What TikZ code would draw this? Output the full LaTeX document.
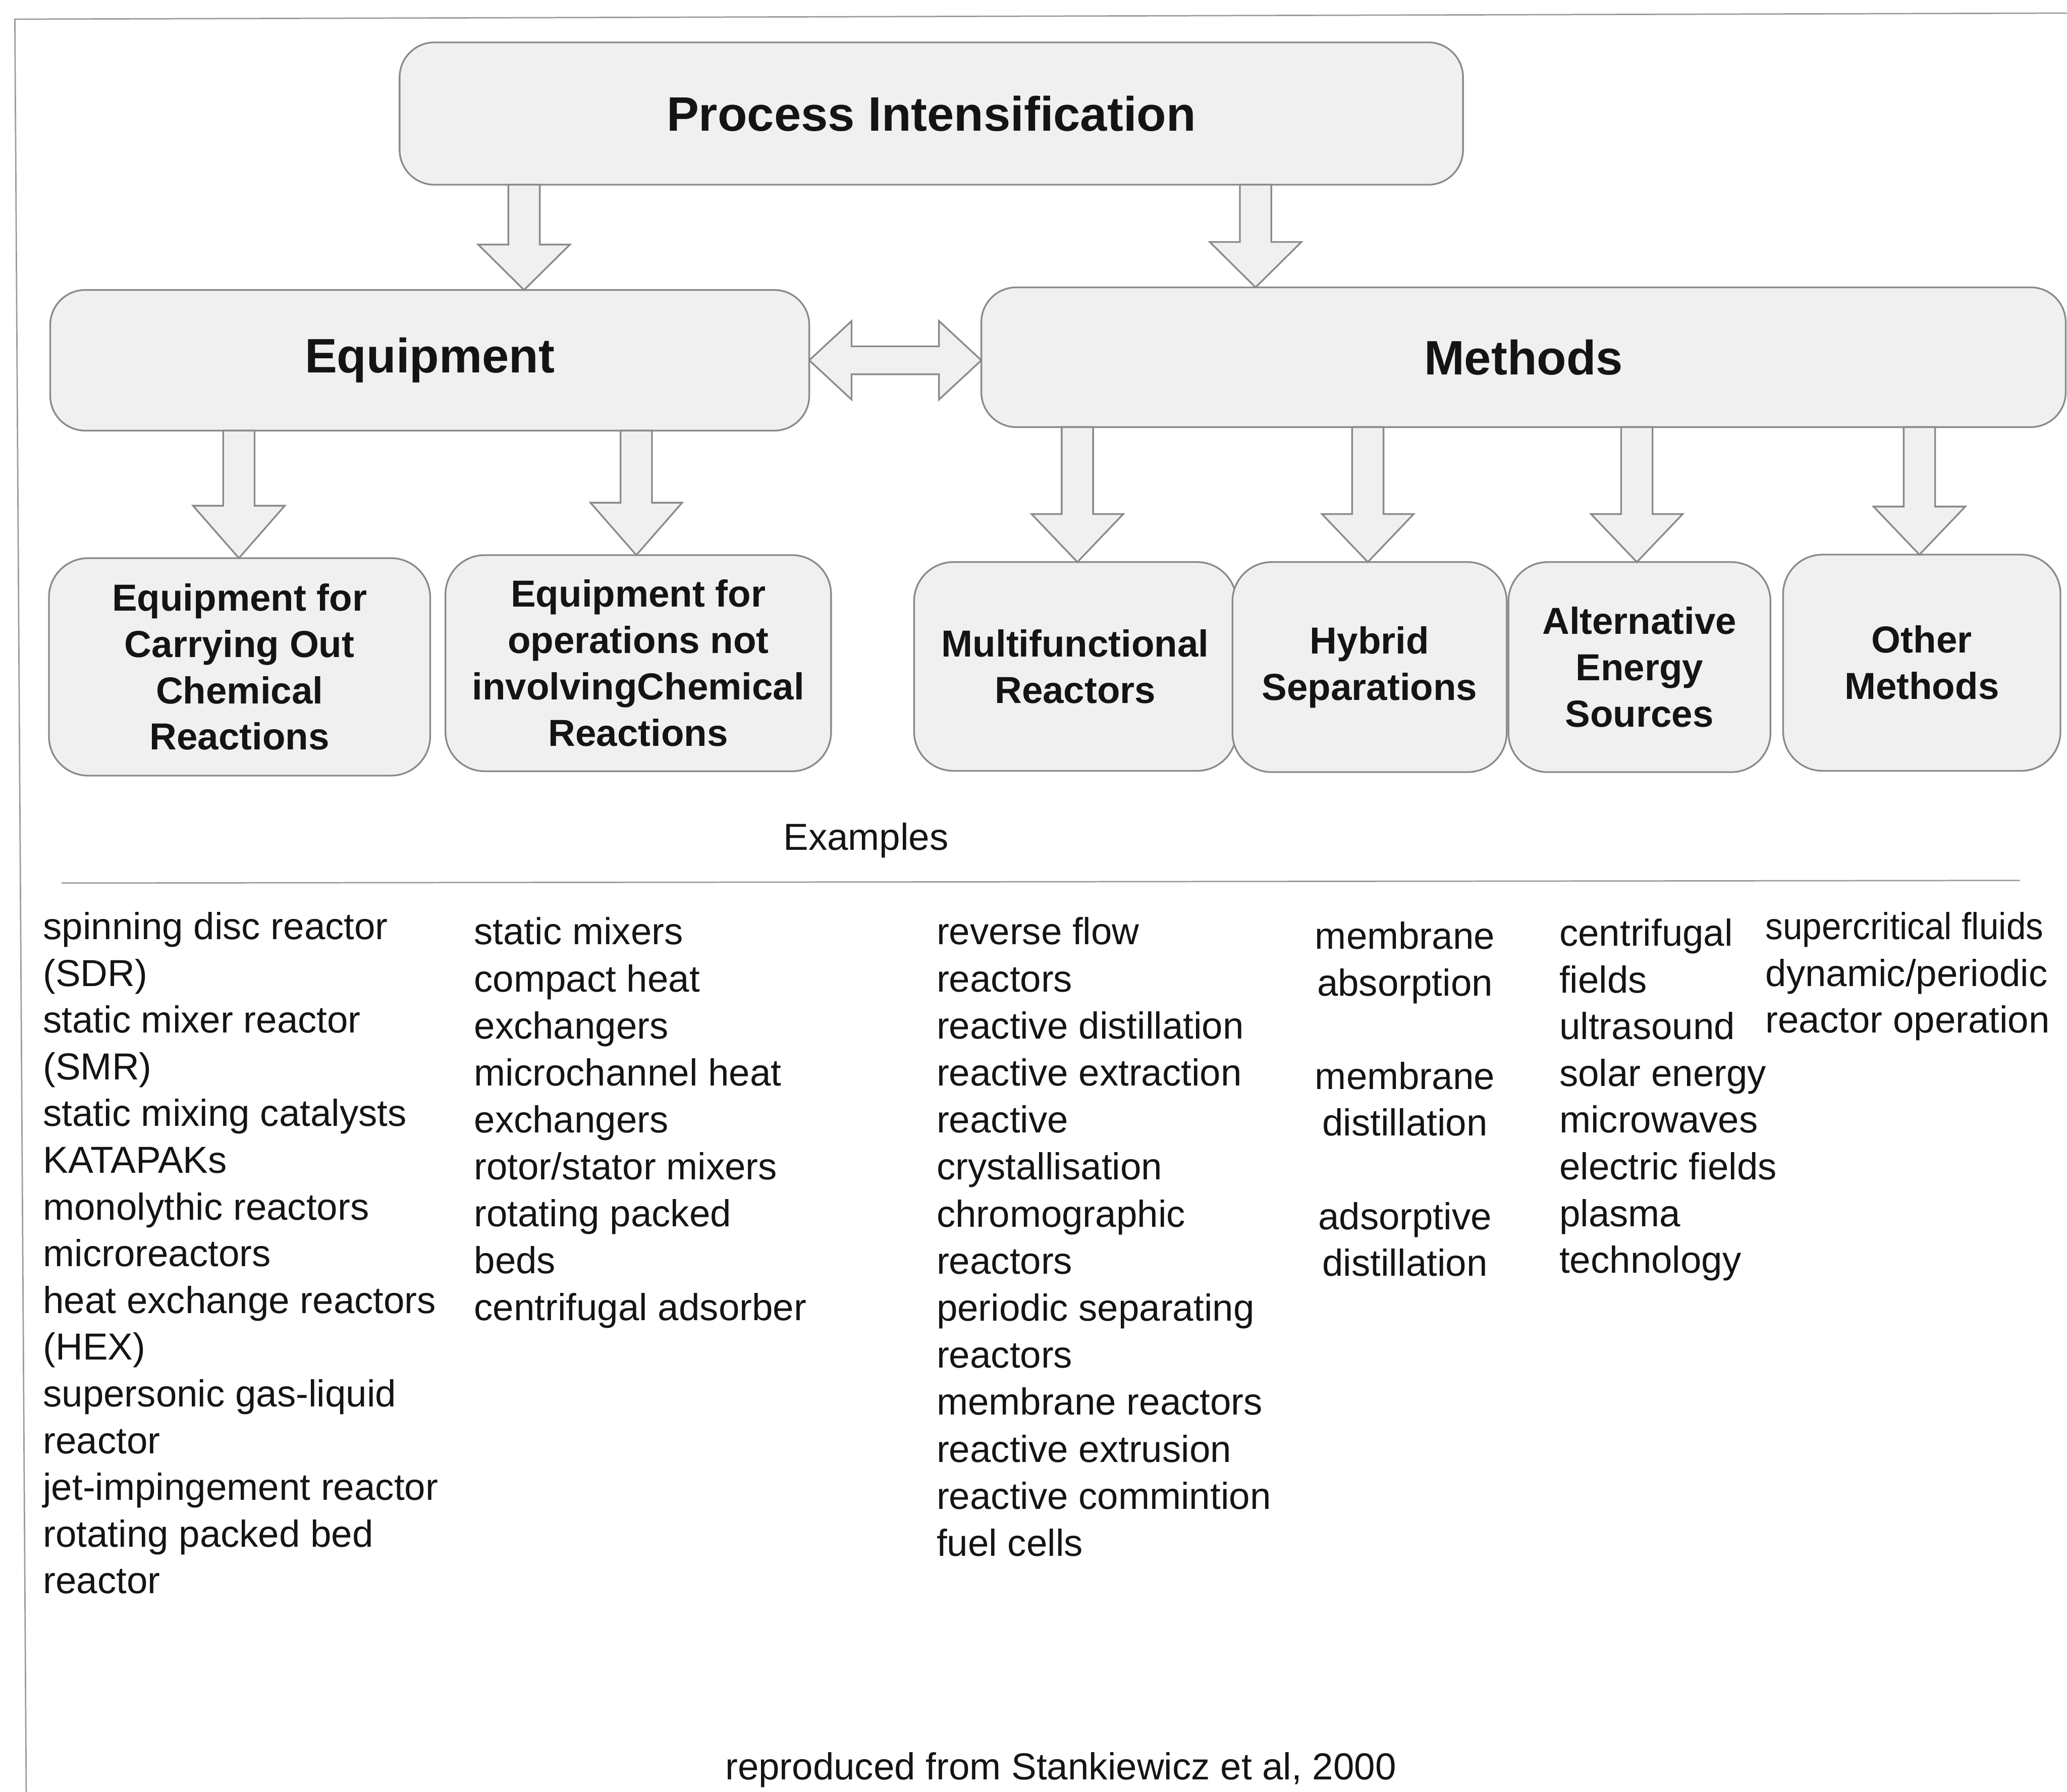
\documentclass[tikz,border=0pt]{standalone}
\usepackage{fontspec}
\usepackage{graphicx}
\setmainfont{Liberation Sans}
\usetikzlibrary{calc}

\definecolor{boxfill}{HTML}{F0F0F0}
\definecolor{boxline}{HTML}{8A8A8A}
\definecolor{frameline}{HTML}{9C9C9C}
\definecolor{ink}{HTML}{141414}

% half widths of the block arrows (shaft and head)
\newcommand{\arrsw}{0.36}
\newcommand{\arrhw}{1.05}

% downward block arrow from node #1 to node #2 at abscissa #3, head length #4
\newcommand{\blockdown}[4]{%
  \coordinate (bt) at (#3,0);
  \draw[blockarrow]
    ($(bt |- #1.south)+(-\arrsw,0)$) --
    ($(bt |- #2.north)+(-\arrsw,#4)$) --
    ($(bt |- #2.north)+(-\arrhw,#4)$) --
    (bt |- #2.north) --
    ($(bt |- #2.north)+(\arrhw,#4)$) --
    ($(bt |- #2.north)+(\arrsw,#4)$) --
    ($(bt |- #1.south)+(\arrsw,0)$) -- cycle;
}

\begin{document}
\begin{tikzpicture}[
  every node/.style={text=ink},
  box/.style={draw=boxline, fill=boxfill, line width=1.1pt, rounded corners=0.8cm,
              inner sep=0pt, outer sep=0pt, align=center},
  headbox/.style={box, font=\fontsize{31.5}{38}\selectfont\bfseries},
  subbox/.style={box, rounded corners=0.9cm, font=\fontsize{24.5}{30.2}\selectfont\bfseries},
  blockarrow/.style={draw=boxline, fill=boxfill, line width=1.1pt, line join=miter},
  ex/.style={font=\fontsize{24.5}{30.4}\selectfont, inner sep=0pt, anchor=base west},
  exc/.style={ex, anchor=base},
  rule/.style={draw=frameline, line width=0.9pt},
]
\useasboundingbox (0,0) rectangle (47.33,-41.03);

% outer frame (top and left sides only)
\draw[rule] (0.60,-41.03) -- (0.34,-0.44) -- (47.33,-0.30);

% top level
\node[headbox, minimum width=24.35cm, minimum height=3.26cm] (pi) at (21.325,-2.60)
  {Process Intensification};

% second level
\node[headbox, minimum width=17.38cm, minimum height=3.22cm] (equip) at (9.84,-8.25)
  {Equipment};
\node[headbox, minimum width=24.83cm, minimum height=3.20cm] (methods) at (34.885,-8.18)
  {Methods};

% third level
\node[subbox, minimum width=8.73cm, minimum height=4.98cm] (eqreact) at (5.485,-15.27)
  {Equipment for\\Carrying Out\\Chemical\\Reactions};
\node[subbox, minimum width=8.83cm, minimum height=4.95cm] (eqops) at (14.615,-15.185)
  {Equipment for\\operations not\\involvingChemical\\Reactions};
\node[subbox, minimum width=7.38cm, minimum height=4.78cm] (multi) at (24.62,-15.26)
  {Multifunctional\\Reactors};
\node[subbox, minimum width=6.28cm, minimum height=4.81cm] (hybrid) at (31.36,-15.275)
  {Hybrid\\Separations};
\node[subbox, minimum width=6.00cm, minimum height=4.81cm] (altern) at (37.54,-15.275)
  {Alternative\\Energy\\Sources};
\node[subbox, minimum width=6.35cm, minimum height=4.95cm] (other) at (44.005,-15.175)
  {Other\\Methods};

% block arrows
\blockdown{pi}{equip}{12.00}{1.04}
\blockdown{pi}{methods}{28.75}{1.04}
\blockdown{equip}{eqreact}{5.47}{1.20}
\blockdown{equip}{eqops}{14.57}{1.20}
\blockdown{methods}{multi}{24.67}{1.10}
\blockdown{methods}{hybrid}{31.32}{1.10}
\blockdown{methods}{altern}{37.48}{1.10}
\blockdown{methods}{other}{43.95}{1.10}

% two-way arrow between equipment and methods
\coordinate (dl) at (equip.east);
\coordinate (dr) at (methods.west |- equip.east);
\draw[blockarrow]
  (dl) -- ($(dl)+(0.97,0.90)$) -- ($(dl)+(0.97,0.32)$) --
  ($(dr)+(-0.97,0.32)$) -- ($(dr)+(-0.97,0.90)$) -- (dr) --
  ($(dr)+(-0.97,-0.90)$) -- ($(dr)+(-0.97,-0.32)$) --
  ($(dl)+(0.97,-0.32)$) -- ($(dl)+(0.97,-0.90)$) -- cycle;

% examples heading and rule
\node[ex] (examples) at (17.93,-19.47) {Examples};
\draw[rule] (1.41,-20.22) coordinate (rulel) -- (46.25,-20.16) coordinate (ruler);

% example lists
\foreach \t [count=\i from 0] in {spinning disc reactor,(SDR),static mixer reactor,(SMR),
    static mixing catalysts,KATAPAKs,monolythic reactors,microreactors,
    heat exchange reactors,(HEX),supersonic gas-liquid,reactor,
    jet-impingement reactor,rotating packed bed,reactor}
  \node[ex] (colA\i) at (0.98,{-21.51-1.07*\i}) {\t};

\foreach \t [count=\i from 0] in {static mixers,compact heat,exchangers,microchannel heat,
    exchangers,rotor/stator mixers,rotating packed,beds,centrifugal adsorber}
  \node[ex] (colB\i) at (10.85,{-21.63-1.076*\i}) {\t};

\foreach \t [count=\i from 0] in {reverse flow,reactors,reactive distillation,
    reactive extraction,reactive,crystallisation,chromographic,reactors,
    periodic separating,reactors,membrane reactors,reactive extrusion,
    reactive commintion,fuel cells}
  \node[ex] (colC\i) at (21.44,{-21.63-1.077*\i}) {\t};

\foreach \t/\k in {membrane/0,absorption/1,membrane/3,distillation/4,adsorptive/6,distillation/7}
  \node[exc] (colD\k) at (32.17,{-21.73-1.07*\k}) {\t};

\foreach \t [count=\i from 0] in {centrifugal,fields,ultrasound,solar energy,
    microwaves,electric fields,plasma,technology}
  \node[ex] (colE\i) at (35.70,{-21.66-1.07*\i}) {\t};

\node[ex] (colF0) at (40.42,-21.51) {\scalebox{0.93}[1]{supercritical fluids}};
\node[ex] (colF1) at (40.42,-22.58) {dynamic/periodic};
\node[ex] (colF2) at (40.42,-23.65) {reactor operation};

% source note
\node[ex] (credit) at (16.60,-40.75) {reproduced from Stankiewicz et al, 2000};
\end{tikzpicture}
\end{document}
